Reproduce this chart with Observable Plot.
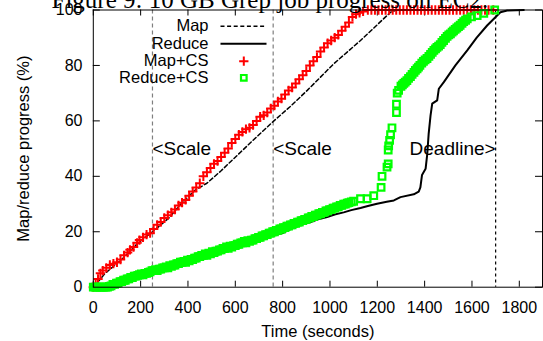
<!DOCTYPE html>
<html>
<head>
<meta charset="utf-8">
<script src="https://cdn.jsdelivr.net/npm/d3@7"></script>
<script src="https://cdn.jsdelivr.net/npm/@observablehq/plot@0.6"></script>
<style>
  html, body { margin: 0; padding: 0; background: #fff; overflow: hidden; }
  #chart { position: absolute; left: 0; top: 0; }
</style>
</head>
<body>
<div id="chart"></div>
<script>
// ---- Data ----
const titleText = "Figure 9: 10 GB Grep job progress on EC2.";
const xLabel = "Time (seconds)";
const yLabel = "Map/reduce progress (%)";
const seriesNames = ["Map", "Reduce", "Map+CS", "Reduce+CS"];
const xTicks = [0, 200, 400, 600, 800, 1000, 1200, 1400, 1600, 1800];
const yTicks = [0, 20, 40, 60, 80, 100];
const scaleTimes = [250, 760];
const scaleLabel = "<Scale";
const deadlineTimes = [1700];
const deadlineLabel = "Deadline>";
const annotationLevel = 50;

// Map (black dashed) [time, %]
const mapData = [[0,0],[50,5],[120,10],[190,16],[250,20],[320,25],[370,30],[430,35],[480,37.5],[540,42],[622,48.7],[700,55],[763,60],[830,65],[904,71],[1016,80.6],[1129,89],[1256,99.2],[1280,100],[1300,100]];

// Reduce (black solid)
const reduceData = [[0,0],[70,0],[100,1],[150,2.5],[200,3.5],[250,5],[300,6],[350,7.5],[400,8.5],[450,10],[500,11],[550,12.5],[600,14],[650,15.5],[706,17.5],[763,18.6],[800,19.5],[847,21.6],[880,22.5],[918,23.5],[950,24.5],[988,25.3],[1020,26.2],[1058,27],[1090,27.8],[1129,28.6],[1160,29.3],[1199,30.1],[1240,30.8],[1270,31.3],[1298,32.5],[1354,33.5],[1375,34.5],[1382,36],[1389,40.5],[1404,42.7],[1411,48],[1417,55.3],[1425,62],[1432,66.2],[1453,67.4],[1460,71.6],[1481,74],[1530,80],[1580,85.4],[1620,90],[1664,94.4],[1700,97.5],[1720,99.2],[1749,99.8],[1819,100]];

// Map+CS (red crosses)
const mapCSData = [[0,0],[10,1],[20,3],[30,5],[40,6],[55,7],[70,8],[85,8.5],[100,9],[115,10],[130,11.5],[145,12.5],[155,13.5],[170,14.5],[185,16],[195,17],[210,18],[225,19],[240,19.5],[255,21],[270,22.5],[285,23.5],[300,25],[315,26],[330,27],[345,28],[360,29.5],[375,30.5],[390,31.5],[405,33],[420,34.5],[435,36],[450,37.5],[465,40],[480,41.5],[495,43],[510,44.5],[525,45.5],[540,47],[555,48.5],[570,50],[585,52],[600,53.5],[615,55],[630,56],[645,57],[660,57.5],[675,58.5],[690,60],[705,61.5],[720,62],[735,63],[750,64.5],[765,65.5],[780,67],[795,68],[810,69.5],[825,71],[840,72],[855,73.5],[870,75],[885,76.5],[900,78],[915,80],[930,81.5],[945,83],[960,85],[975,86.5],[990,88],[1005,89],[1020,90],[1035,91],[1050,92.5],[1065,94],[1080,95.5],[1095,97.5],[1110,98.5],[1125,99],[1140,99.5],[1160,100],[1175,100],[1190,100],[1205,100],[1220,100],[1235,100],[1250,100],[1265,100],[1280,100],[1295,100],[1310,100],[1325,100],[1340,100],[1355,100],[1370,100],[1385,100],[1400,100],[1415,100],[1430,100],[1445,100],[1460,100],[1475,100],[1490,100],[1505,100],[1520,100],[1535,100],[1550,100],[1565,100],[1580,100],[1595,100],[1610,100],[1625,100],[1640,100],[1655,100],[1670,100],[1690,100]];

// Reduce+CS (green squares)
const reduceCSData = [[0,0],[8,0],[15,0],[23,0],[30,0],[38,0],[45,0],[53,0],[60,0],[68,0.3],[75,0.5],[83,1],[90,1],[98,1.5],[105,1.5],[113,2],[120,2],[128,2.5],[135,2.5],[143,3],[150,3],[158,3.5],[165,3.5],[173,4],[180,4],[188,4.3],[195,4.5],[203,4.8],[210,4.5],[218,5],[225,5],[233,5.3],[240,5.5],[248,6],[255,6],[263,6.3],[270,6],[278,6.5],[285,6.5],[293,7],[300,7],[308,7.3],[315,7],[323,7.8],[330,7.5],[338,8],[345,8],[353,8.5],[360,8.5],[368,9],[375,9],[383,9.3],[390,9],[398,9.8],[405,9.5],[413,10],[420,10],[428,10.5],[435,10.5],[443,11],[450,11],[458,11.5],[465,11.5],[473,12],[480,11.5],[488,12.3],[495,12],[503,12.8],[510,12.5],[518,13],[525,13],[533,13.5],[540,13.5],[548,14],[555,14],[563,14.5],[570,14],[578,14.8],[585,14.5],[593,15],[600,15],[608,15.5],[615,15.5],[623,16],[630,16],[638,16.5],[645,16],[653,16.8],[660,16.5],[668,17],[675,17],[683,17.5],[690,17.5],[698,18],[705,18],[713,18.5],[720,18.5],[728,19],[735,19],[743,19.5],[750,19.5],[758,20],[765,20],[773,20.5],[780,20.5],[788,21],[795,21],[803,21.5],[810,21.5],[818,22],[825,22],[833,22.5],[840,22.5],[848,23],[855,23],[863,23.5],[870,23.5],[878,24],[885,24],[893,24.5],[900,24.5],[908,25],[915,25],[923,25.5],[930,25.5],[938,26],[945,26],[953,26.5],[960,26.5],[968,27],[975,27],[983,27.5],[990,27.5],[998,28],[1005,28],[1013,28.5],[1020,28.5],[1028,29],[1035,29],[1043,29.5],[1050,29.5],[1058,30],[1065,30],[1073,30.3],[1080,30.5],[1090,30.8],[1100,31],[1129,31.9],[1157,31.9],[1185,33],[1216,36],[1220,40],[1241,43.3],[1246,44.5],[1246,49.5],[1248,51],[1252,53],[1256,55],[1262,57.5],[1281,63],[1281,66],[1284,70],[1290,71],[1300,72.5],[1306,73],[1312,73.5],[1318,74],[1325,74.5],[1332,75.3],[1340,76],[1347,76.8],[1355,77.5],[1361,78.2],[1368,78.8],[1374,79.4],[1380,80],[1388,80.8],[1395,81.5],[1402,82],[1410,82.5],[1418,83.3],[1425,84],[1432,84.7],[1439,85.4],[1446,86],[1452,86.5],[1459,87],[1466,87.5],[1473,88.3],[1480,89],[1488,89.8],[1495,90.5],[1502,91],[1509,91.4],[1516,92],[1522,92.5],[1529,93],[1536,93.5],[1543,94],[1550,94.5],[1558,95.2],[1565,95.8],[1573,96.3],[1580,96.8],[1598,97.5],[1622,98],[1650,98.8],[1696,100]];

// ---- Chart ----
const W = 543, H = 341;
const mL = 92.8, mR = 1, mT = 9.5, mB = 54.3;
const xMax = 1898;
const pxPerX = (W - mL - mR) / xMax;
const pxPerY = (H - mT - mB) / 100;
const font = "'Liberation Sans', Arial, Helvetica, sans-serif";

const red = "#ff0000", green = "#00ff00";
const crossR = 3.1, crossW = 2, squareR = 4.2, squareW = 2.2;
const legendRowsY = [25.7, 43.3, 60.7, 77.3]; // pixel rows (layout)
const legendTextRight = 208, legendSampleX1 = 220, legendSampleX2 = 266, legendSymbolX = 243.3;

const legendMarks = [];
seriesNames.forEach((name, i) => {
  legendMarks.push(Plot.text([name], {frameAnchor: "top-left", dx: legendTextRight - mL, dy: legendRowsY[i] - mT, textAnchor: "end", lineAnchor: "middle", fontSize: 16.5, fill: "black"}));
});
const lx = v => (v - mL) / pxPerX, ly = v => 100 - (v - mT) / pxPerY;
legendMarks.push(Plot.link([0], {x1: () => lx(legendSampleX1), x2: () => lx(legendSampleX2), y1: () => ly(legendRowsY[0]), y2: () => ly(legendRowsY[0]), stroke: "black", strokeWidth: 1.5, strokeDasharray: "4,2.6"}));
legendMarks.push(Plot.link([0], {x1: () => lx(legendSampleX1), x2: () => lx(legendSampleX2), y1: () => ly(legendRowsY[1]), y2: () => ly(legendRowsY[1]), stroke: "black", strokeWidth: 2}));
legendMarks.push(Plot.dot([0], {x: () => lx(legendSymbolX), y: () => ly(legendRowsY[2]), symbol: "plus", r: crossR, stroke: red, strokeWidth: crossW, fill: "none"}));
legendMarks.push(Plot.dot([0], {x: () => lx(legendSymbolX), y: () => ly(legendRowsY[3]), symbol: "square2", r: squareR * 0.85, stroke: green, strokeWidth: squareW, fill: "none"}));

const tickLenX = 7 / pxPerX, tickLenY = 6 / pxPerY;

const chart = Plot.plot({
  width: W, height: H,
  marginLeft: mL, marginRight: mR, marginTop: mT, marginBottom: mB,
  style: {fontFamily: font, fontSize: "16px", background: "white", color: "black", overflow: "visible"},
  x: {domain: [0, xMax]},
  y: {domain: [0, 100]},
  marks: [
    Plot.ruleX(scaleTimes, {stroke: "#7f7f7f", strokeWidth: 1.2, strokeDasharray: "4,3"}),
    Plot.ruleX(deadlineTimes, {stroke: "black", strokeWidth: 1.2, strokeDasharray: "3,3"}),
    Plot.axisX(xTicks, {tickSize: 0, tickPadding: 14.6, fontSize: 16, label: null, tickFormat: d => String(d)}),
    Plot.axisY(yTicks, {tickSize: 0, tickPadding: 10.8, fontSize: 16, label: null, tickFormat: d => String(d)}),
    Plot.ruleY(yTicks, {x1: 0, x2: tickLenX, stroke: "black"}),
    Plot.ruleY(yTicks, {x1: xMax - tickLenX, x2: xMax, stroke: "black"}),
    Plot.ruleX(xTicks, {y1: 0, y2: tickLenY, stroke: "black"}),
    Plot.ruleX(xTicks, {y1: 100 - tickLenY, y2: 100, stroke: "black"}),
    Plot.line(mapData, {x: d => d[0], y: d => d[1], stroke: "black", strokeWidth: 1.5, strokeDasharray: "4,2.6", curve: "linear"}),
    Plot.line(reduceData, {x: d => d[0], y: d => d[1], stroke: "black", strokeWidth: 2, curve: "linear"}),
    Plot.dot(mapCSData, {x: d => d[0], y: d => d[1], symbol: "plus", r: crossR, stroke: red, strokeWidth: crossW, fill: "none"}),
    Plot.dot(reduceCSData, {x: d => d[0], y: d => d[1], symbol: "square2", r: squareR, stroke: green, strokeWidth: squareW, fill: "none"}),
    Plot.text(scaleTimes, {x: d => d, y: () => annotationLevel, text: () => scaleLabel, textAnchor: "start", lineAnchor: "middle", fontSize: 19, fill: "black"}),
    Plot.text(deadlineTimes, {x: d => d, y: () => annotationLevel, text: () => deadlineLabel, textAnchor: "end", lineAnchor: "middle", fontSize: 19, fill: "black"}),
    ...legendMarks,
    Plot.frame({stroke: "black", strokeWidth: 1}),
    Plot.text([xLabel], {frameAnchor: "bottom", dy: 44.3, textAnchor: "middle", lineAnchor: "middle", fontSize: 16.5, fill: "black"}),
    Plot.text([yLabel], {frameAnchor: "left", dx: -69.5, rotate: -90, textAnchor: "middle", lineAnchor: "middle", fontSize: 16.5, fill: "black"}),
    Plot.text([titleText], {frameAnchor: "top", dx: -48, dy: -10, textAnchor: "middle", lineAnchor: "middle", fontSize: 25, fontFamily: "'Liberation Serif', 'Times New Roman', serif", fill: "black"})
  ]
});
document.getElementById("chart").appendChild(chart);
</script>
</body>
</html>
